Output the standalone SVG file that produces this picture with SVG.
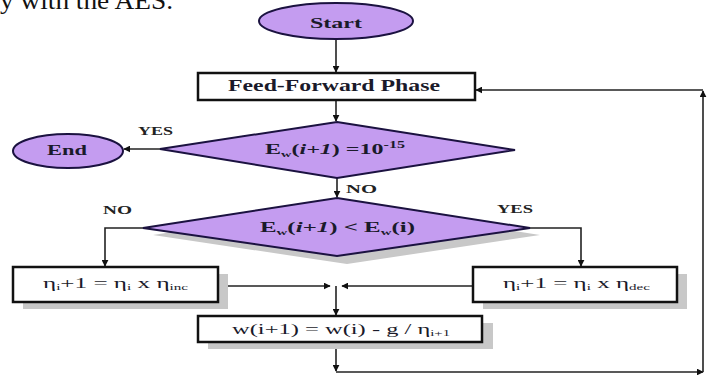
<svg xmlns="http://www.w3.org/2000/svg" width="712" height="375" viewBox="0 0 712 375">
<defs>
<marker id="ah" viewBox="0 0 10 10" refX="9" refY="5" markerWidth="7" markerHeight="7" markerUnits="userSpaceOnUse" orient="auto">
<path d="M0,0 L10,5 L0,10 Z" fill="#111"/>
</marker>
</defs>
<style>
.term{fill:#c49cf0;stroke:#1b1240;stroke-width:2}
.box{fill:#fff;stroke:#111;stroke-width:2.5}
.shadow{fill:#c8c8c8}
.conn{fill:none;stroke:#222;stroke-width:1.6;marker-end:url(#ah)}
.b{font-family:"Liberation Serif",serif;font-weight:bold;fill:#1a1a2a}
.r{font-family:"Liberation Serif",serif;fill:#1a1a2a}
.lbl{font-family:"Liberation Serif",serif;font-weight:bold;font-size:12px;fill:#222}
</style>
<text x="0" y="9" font-family="Liberation Serif, serif" font-size="25" fill="#111" textLength="173" lengthAdjust="spacingAndGlyphs">y with the AES.</text>

<g id="connectors">
<path class="conn" d="M336,39 V72"/>
<path class="conn" d="M336,100 V121"/>
<path class="conn" d="M160,149 H124"/>
<path class="conn" d="M337,178 V197"/>
<path class="conn" d="M143,228 H105 V266"/>
<path class="conn" d="M530,228 H581 V266"/>
<path class="conn" d="M218,286 H330"/>
<path class="conn" d="M473,286 H342"/>
<path class="conn" d="M336,286 V315"/>
<path class="conn" d="M336,342 V371"/>
<path class="conn" d="M336,372 H703"/>
<path class="conn" d="M703,372 V91"/>
<path class="conn" d="M703,90 H476"/>
</g>

<g id="start">
<ellipse class="term" cx="336" cy="21" rx="77" ry="18"/>
<text class="b" x="336" y="28" font-size="15" text-anchor="middle" textLength="52" lengthAdjust="spacingAndGlyphs">Start</text>
</g>

<g id="feedforward">
<rect class="box" x="198" y="73" width="277" height="27"/>
<text class="b" x="334" y="91" font-size="16" text-anchor="middle" textLength="212" lengthAdjust="spacingAndGlyphs">Feed-Forward Phase</text>
</g>

<g id="decision1">
<polygon class="term" points="337,122 515,150 337,178 160,149"/>
<text class="b" x="265" y="154" font-size="15" textLength="140" lengthAdjust="spacingAndGlyphs">E<tspan font-size="9" dy="3">w</tspan><tspan dy="-3">(</tspan><tspan font-style="italic">i+1</tspan>) =10<tspan font-size="10" dy="-6">-15</tspan></text>
</g>

<g id="end">
<ellipse class="term" cx="68" cy="151" rx="55" ry="17"/>
<text class="b" x="67" y="155" font-size="15" text-anchor="middle" textLength="40" lengthAdjust="spacingAndGlyphs">End</text>
</g>

<g id="decision2">
<polygon class="shadow" points="347,205 540,235 347,264 153,235"/>
<polygon class="term" points="337,198 530,228 337,256 143,228"/>
<text class="b" x="260" y="232" font-size="15" textLength="155" lengthAdjust="spacingAndGlyphs">E<tspan font-size="9" dy="3">w</tspan><tspan dy="-3">(</tspan><tspan font-style="italic">i+1</tspan>) &lt; E<tspan font-size="9" dy="3">w</tspan><tspan dy="-3">(i)</tspan></text>
</g>

<g id="inc">
<rect class="shadow" x="23" y="274" width="205" height="35"/>
<rect class="box" x="13" y="267" width="205" height="35"/>
<text class="r" x="43" y="288" font-size="15" textLength="145" lengthAdjust="spacingAndGlyphs">η<tspan font-size="9" dy="2">i</tspan><tspan dy="-2">+1 = η</tspan><tspan font-size="9" dy="2">i</tspan><tspan dy="-2"> x η</tspan><tspan font-size="9" dy="2">inc</tspan></text>
</g>

<g id="dec">
<rect class="shadow" x="483" y="274" width="204" height="35"/>
<rect class="box" x="473" y="267" width="204" height="35"/>
<text class="r" x="503" y="288" font-size="15" textLength="147" lengthAdjust="spacingAndGlyphs">η<tspan font-size="9" dy="2">i</tspan><tspan dy="-2">+1 = η</tspan><tspan font-size="9" dy="2">i</tspan><tspan dy="-2"> x η</tspan><tspan font-size="9" dy="2">dec</tspan></text>
</g>

<g id="update">
<rect class="shadow" x="208" y="323" width="285" height="26"/>
<rect class="box" x="198" y="316" width="284" height="26"/>
<text class="r" x="232" y="334" font-size="15" textLength="218" lengthAdjust="spacingAndGlyphs">w(i+1) = w(i) - g / η<tspan font-size="9" dy="2">i+1</tspan></text>
</g>

<g id="labels">
<text class="lbl" x="138" y="135" textLength="35" lengthAdjust="spacingAndGlyphs">YES</text>
<text class="lbl" x="346" y="193" textLength="31" lengthAdjust="spacingAndGlyphs">NO</text>
<text class="lbl" x="103" y="214" textLength="29" lengthAdjust="spacingAndGlyphs">NO</text>
<text class="lbl" x="497" y="213" textLength="36" lengthAdjust="spacingAndGlyphs">YES</text>
</g>
</svg>
